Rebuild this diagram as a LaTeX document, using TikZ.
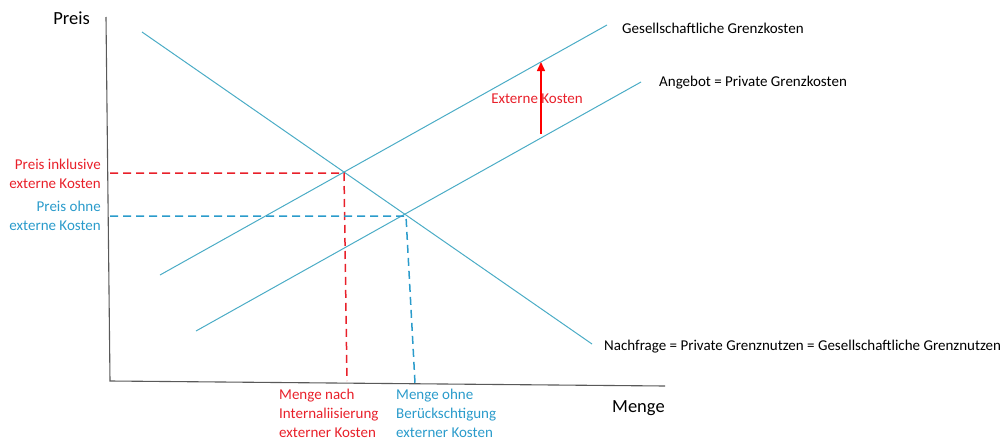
\documentclass[tikz,border=0pt]{standalone}
\usepackage{fontspec}
\setmainfont{Carlito}
\usetikzlibrary{arrows.meta}
\definecolor{curve}{HTML}{4BACC6}
\definecolor{axis}{HTML}{595959}
\definecolor{redc}{HTML}{E8202A}
\definecolor{bluec}{HTML}{2A9BCB}
\begin{document}
\begin{tikzpicture}[x=1pt,y=-1pt,
  curveline/.style={draw=curve,line width=1pt},
  axisline/.style={draw=axis,line width=1.1pt},
  reddash/.style={draw=redc,line width=1.5pt,dash pattern=on 8pt off 5pt},
  bluedash/.style={draw=bluec,line width=1.5pt,dash pattern=on 8pt off 5pt},
  lbl/.style={inner sep=0pt,font=\fontsize{15}{19}\selectfont},
  biglbl/.style={inner sep=0pt,font=\fontsize{18.5}{22}\selectfont}]
\useasboundingbox (0,0) rectangle (1002,442);
% axes
\coordinate (ytop) at (106,17);
\coordinate (origin) at (110,381);
\coordinate (xend) at (665,386);
\draw[axisline] (ytop) -- (origin) -- (xend);
% curves
\coordinate (d1) at (142,32);
\coordinate (d2) at (592,344);
\coordinate (s1) at (160,275);
\coordinate (s2) at (607,25);
\coordinate (p1) at (196,331);
\coordinate (p2) at (641,82);
\draw[curveline] (d1) -- (d2);
\draw[curveline] (s1) -- (s2);
\draw[curveline] (p1) -- (p2);
% equilibria
\coordinate (eR) at (344,173);
\coordinate (eB) at (406,216);
\coordinate (yR) at (110,173);
\coordinate (yB) at (110,216);
\coordinate (xR) at (347,381);
\coordinate (xB) at (415,383);
\draw[reddash] (yR) -- (eR) -- (xR);
\draw[bluedash] (yB) -- (eB) -- (xB);
% external cost arrow
\coordinate (a1) at (541,134);
\coordinate (a2) at (541,62);
\draw[draw=red,line width=1.5pt,-{Triangle[length=9pt,width=8pt]}] (a1) -- (a2);
\node[lbl,text=redc] (ek) at (537,99) {Externe Kosten};
% labels
\node[biglbl,anchor=base east] (preis) at (90,24) {Preis};
\node[biglbl,anchor=base west] (menge) at (612,412) {Menge};
\node[lbl,text=redc,align=right,anchor=east] (pink) at (101,174) {Preis inklusive\\externe Kosten};
\node[lbl,text=bluec,align=right,anchor=east] (pohne) at (101,216) {Preis ohne\\externe Kosten};
\node[lbl,text=redc,align=left,anchor=north west] (mnach) at (279,389) {Menge nach\\Internaliisierung\\externer Kosten};
\node[lbl,text=bluec,align=left,anchor=north west] (mohne) at (396,389) {Menge ohne\\Berückschtigung\\externer Kosten};
\node[lbl,anchor=west] (gk) at (622,28) {Gesellschaftliche Grenzkosten};
\node[lbl,anchor=west] (ak) at (659,83) {Angebot = Private Grenzkosten};
\node[lbl,anchor=west] (nf) at (604,347) {Nachfrage = Private Grenznutzen = Gesellschaftliche Grenznutzen};
\end{tikzpicture}
\end{document}
